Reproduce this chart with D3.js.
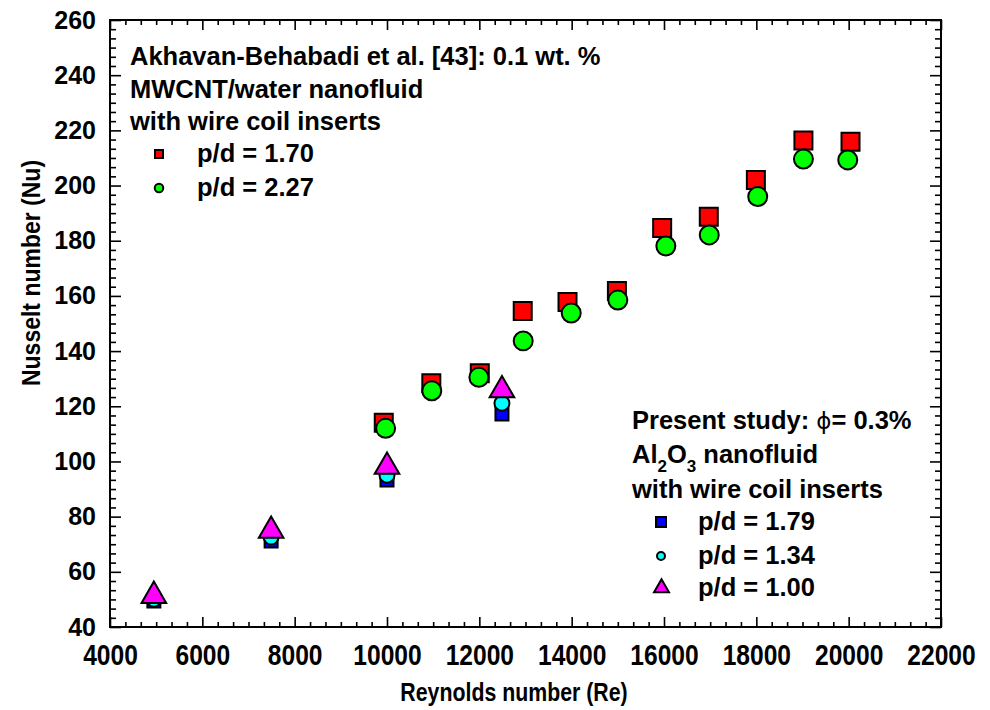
<!DOCTYPE html>
<html>
<head>
<meta charset="utf-8">
<script src="https://cdn.jsdelivr.net/npm/d3@7"></script>
<style>
  body { margin: 0; background: #fff; }
  svg { display: block; }
</style>
</head>
<body>
<svg id="chart" width="990" height="710"></svg>
<script>
// Akhavan-Behabadi et al. [43]: MWCNT/water nanofluid, wire coil inserts
const reAkhavan170 = [9930, 10960, 12010, 12940, 13910, 14980, 15960, 16970, 17990, 19020, 20040];
const nuAkhavan170 = [114, 128.3, 132, 154.5, 157.8, 161.8, 184.6, 188.7, 202, 216.3, 215.9];
const reAkhavan227 = [9970, 10970, 11990, 12950, 13990, 15000, 16040, 16980, 18030, 19020, 19980];
const nuAkhavan227 = [112, 125.6, 130.5, 143.7, 153.8, 158.5, 178.1, 182.1, 196, 209.6, 209.3];

// Present study: Al2O3 nanofluid, wire coil inserts
const rePresent = [4950, 7490, 10000, 12490];
const nuPresent179 = [49.4, 71.2, 93.3, 117.2];
const nuPresent134 = [50.1, 72.6, 95, 121.1];
const nuPresent100 = [51.3, 74.9, 98.1, 125.8];

// Axis ticks
const xTicks = [4000, 6000, 8000, 10000, 12000, 14000, 16000, 18000, 20000, 22000];
const yTicks = [40, 60, 80, 100, 120, 140, 160, 180, 200, 220, 240, 260];

const FONT = "'Liberation Sans', Arial, Helvetica, sans-serif";
const NARROW = 0.82; // horizontal squeeze for the condensed axis lettering

const svg = d3.select("#chart");
const plot = { left: 110, right: 941, top: 20, bottom: 627 };

const x = d3.scaleLinear().domain([4000, 22000]).range([plot.left, plot.right]);
const y = d3.scaleLinear().domain([40, 260]).range([plot.bottom, plot.top]);

// minor ticks: six subdivisions per major interval
function minorTicks(lo, hi, step) {
  const out = [];
  for (let v = lo; v < hi - 1e-9; v += step) {
    for (let k = 1; k < 6; k++) out.push(v + k * step / 6);
  }
  return out;
}
const xMinor = minorTicks(4000, 22000, 2000);
const yMinor = minorTicks(40, 260, 20);

function styleAxis(g) {
  g.select(".domain").remove();
  g.selectAll("line").attr("stroke", "#000").attr("stroke-width", 1.6);
}

// bottom axis: major with labels, minor without
const gxB = svg.append("g").attr("transform", `translate(0,${plot.bottom})`)
  .call(d3.axisBottom(x).tickValues(xTicks).tickSize(-10).tickFormat(d3.format("d")));
styleAxis(gxB);
gxB.selectAll("text")
  .attr("y", 38).attr("dy", null)
  .attr("transform", `scale(${NARROW},1)`)
  .attr("font-family", FONT).attr("font-weight", "bold").attr("font-size", 30)
  .attr("fill", "#000");
svg.append("g").attr("transform", `translate(0,${plot.bottom})`)
  .call(d3.axisBottom(x).tickValues(xMinor).tickSize(-5).tickFormat(""))
  .call(styleAxis);

// top axis ticks
svg.append("g").attr("transform", `translate(0,${plot.top})`)
  .call(d3.axisTop(x).tickValues(xTicks).tickSize(-10).tickFormat(""))
  .call(styleAxis);
svg.append("g").attr("transform", `translate(0,${plot.top})`)
  .call(d3.axisTop(x).tickValues(xMinor).tickSize(-5).tickFormat(""))
  .call(styleAxis);

// left axis
const gyL = svg.append("g").attr("transform", `translate(${plot.left},0)`)
  .call(d3.axisLeft(y).tickValues(yTicks).tickSize(-11).tickPadding(14));
styleAxis(gyL);
gyL.selectAll("text")
  .attr("font-family", FONT).attr("font-weight", "bold").attr("font-size", 25)
  .attr("fill", "#000");
svg.append("g").attr("transform", `translate(${plot.left},0)`)
  .call(d3.axisLeft(y).tickValues(yMinor).tickSize(-6).tickFormat(""))
  .call(styleAxis);

// right axis ticks
svg.append("g").attr("transform", `translate(${plot.right},0)`)
  .call(d3.axisRight(y).tickValues(yTicks).tickSize(-11).tickFormat(""))
  .call(styleAxis);
svg.append("g").attr("transform", `translate(${plot.right},0)`)
  .call(d3.axisRight(y).tickValues(yMinor).tickSize(-6).tickFormat(""))
  .call(styleAxis);

// plot frame
svg.append("rect")
  .attr("x", plot.left).attr("y", plot.top)
  .attr("width", plot.right - plot.left).attr("height", plot.bottom - plot.top)
  .attr("fill", "none").attr("stroke", "#000").attr("stroke-width", 2);

// axis titles
svg.append("text")
  .attr("transform", `translate(514,701) scale(${NARROW},1)`)
  .attr("text-anchor", "middle")
  .attr("font-family", FONT).attr("font-weight", "bold").attr("font-size", 26)
  .text("Reynolds number (Re)");
svg.append("text")
  .attr("transform", `translate(40,273) rotate(-90) scale(0.92,1)`)
  .attr("text-anchor", "middle")
  .attr("font-family", FONT).attr("font-weight", "bold").attr("font-size", 25)
  .text("Nusselt number (Nu)");

// markers
function drawSeries(reVals, nuVals, type, size, fill) {
  const sym = d3.symbol().type(type).size(size);
  svg.append("g").selectAll("path")
    .data(reVals.map((r, i) => [r, nuVals[i]]))
    .join("path")
    .attr("d", sym)
    .attr("transform", d => `translate(${x(d[0])},${y(d[1])})`)
    .attr("fill", fill).attr("stroke", "#000").attr("stroke-width", 2)
    .attr("stroke-linejoin", "miter");
}

drawSeries(reAkhavan170, nuAkhavan170, d3.symbolSquare, 324, "#ff0000");
drawSeries(reAkhavan227, nuAkhavan227, d3.symbolCircle, 283, "#00ff00");
drawSeries(rePresent, nuPresent179, d3.symbolSquare, 169, "#0000ff");
drawSeries(rePresent, nuPresent134, d3.symbolCircle, 177, "#00ffff");
drawSeries(rePresent, nuPresent100, d3.symbolTriangle, 262, "#ff00ff");

// legends
function legendText(xPos, yPos, str) {
  return svg.append("text")
    .attr("x", xPos).attr("y", yPos)
    .attr("font-family", FONT).attr("font-weight", "bold").attr("font-size", 25.5)
    .attr("fill", "#000")
    .text(str);
}
function legendMarker(xPos, yPos, type, size, fill) {
  svg.append("path")
    .attr("d", d3.symbol().type(type).size(size))
    .attr("transform", `translate(${xPos},${yPos})`)
    .attr("fill", fill).attr("stroke", "#000").attr("stroke-width", 2);
}

legendText(130, 65, "Akhavan-Behabadi et al. [43]: 0.1 wt. %");
legendText(130, 97.5, "MWCNT/water nanofluid");
legendText(130, 129.5, "with wire coil inserts");
legendMarker(159, 154, d3.symbolSquare, 64, "#ff0000");
legendText(197, 162, "p/d = 1.70");
legendMarker(159, 188, d3.symbolCircle, 57, "#00ff00");
legendText(197, 195.5, "p/d = 2.27");

const t1 = legendText(632, 429, "Present study: ");
t1.append("tspan").attr("font-family", "'DejaVu Sans', sans-serif").attr("font-weight", "normal").attr("font-size", 23).text("ϕ");
t1.append("tspan").text("= 0.3%");

const t2 = legendText(632, 463, "Al");
t2.append("tspan").attr("font-size", 17).attr("dy", 9).text("2");
t2.append("tspan").attr("dy", -9).text("O");
t2.append("tspan").attr("font-size", 17).attr("dy", 9).text("3");
t2.append("tspan").attr("dy", -9).text(" nanofluid");

legendText(632, 498, "with wire coil inserts");
legendMarker(661, 522, d3.symbolSquare, 100, "#0000ff");
legendText(698, 530, "p/d = 1.79");
legendMarker(661, 556, d3.symbolCircle, 50, "#00ffff");
legendText(698, 564, "p/d = 1.34");
legendMarker(661.5, 588, d3.symbolTriangle, 97, "#ff00ff");
legendText(698, 596, "p/d = 1.00");
</script>
</body>
</html>
